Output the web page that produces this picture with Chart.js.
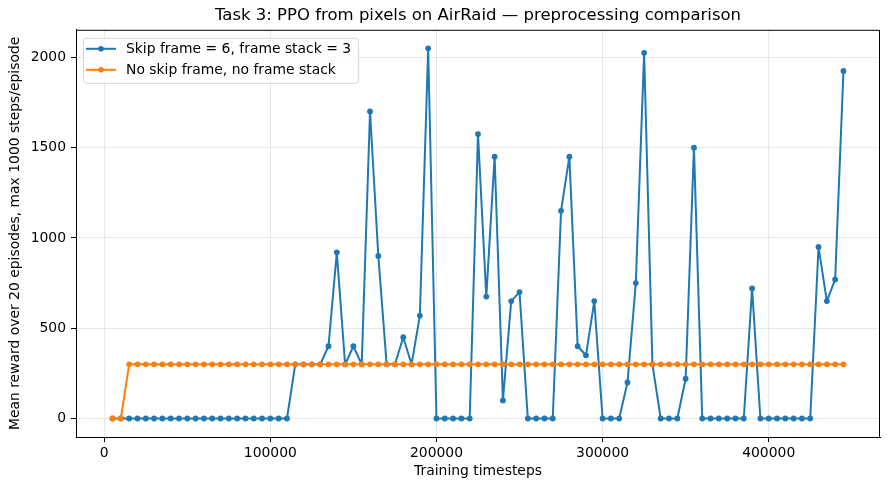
<!DOCTYPE html>
<html>
<head>
<meta charset="utf-8">
<script src="https://cdn.jsdelivr.net/npm/chart.js@4"></script>
<style>
  html, body { margin: 0; padding: 0; background: #fff; }
  #wrap { width: 889px; height: 490px; }
</style>
</head>
<body>
<div id="wrap"><canvas id="myChart" width="889" height="490"></canvas></div>
<script>
// timesteps (x), one evaluation every 5000 steps
const timesteps = [
  5000, 10000, 15000, 20000, 25000, 30000, 35000, 40000, 45000, 50000,
  55000, 60000, 65000, 70000, 75000, 80000, 85000, 90000, 95000, 100000,
  105000, 110000, 115000, 120000, 125000, 130000, 135000, 140000, 145000, 150000,
  155000, 160000, 165000, 170000, 175000, 180000, 185000, 190000, 195000, 200000,
  205000, 210000, 215000, 220000, 225000, 230000, 235000, 240000, 245000, 250000,
  255000, 260000, 265000, 270000, 275000, 280000, 285000, 290000, 295000, 300000,
  305000, 310000, 315000, 320000, 325000, 330000, 335000, 340000, 345000, 350000,
  355000, 360000, 365000, 370000, 375000, 380000, 385000, 390000, 395000, 400000,
  405000, 410000, 415000, 420000, 425000, 430000, 435000, 440000, 445000
];

const skipStackReward = [
  0, 0, 0, 0, 0, 0, 0, 0, 0, 0,
  0, 0, 0, 0, 0, 0, 0, 0, 0, 0,
  0, 0, 300, 300, 300, 300, 400, 920, 300, 400,
  300, 1700, 900, 300, 300, 450, 300, 570, 2050, 0,
  0, 0, 0, 0, 1575, 675, 1450, 100, 650, 700,
  0, 0, 0, 0, 1150, 1450, 400, 350, 650, 0,
  0, 0, 200, 750, 2025, 300, 0, 0, 0, 220,
  1500, 0, 0, 0, 0, 0, 0, 720, 0, 0,
  0, 0, 0, 0, 0, 950, 650, 770, 1925
];

const noSkipReward = [
  0, 0, 300, 300, 300, 300, 300, 300, 300, 300,
  300, 300, 300, 300, 300, 300, 300, 300, 300, 300,
  300, 300, 300, 300, 300, 300, 300, 300, 300, 300,
  300, 300, 300, 300, 300, 300, 300, 300, 300, 300,
  300, 300, 300, 300, 300, 300, 300, 300, 300, 300,
  300, 300, 300, 300, 300, 300, 300, 300, 300, 300,
  300, 300, 300, 300, 300, 300, 300, 300, 300, 300,
  300, 300, 300, 300, 300, 300, 300, 300, 300, 300,
  300, 300, 300, 300, 300, 300, 300, 300, 300
];

const xTicks = [0, 100000, 200000, 300000, 400000];
const yTicks = [0, 500, 1000, 1500, 2000];

const seriesNames = ['Skip frame = 6, frame stack = 3', 'No skip frame, no frame stack'];
const seriesColors = ['#1f77b4', '#ff7f0e'];

const FONT = '"DejaVu Sans", sans-serif';
const gridColor = 'rgba(176,176,176,0.3)';

function toPoints(values) {
  return values.map((v, i) => ({ x: timesteps[i], y: v }));
}

// top/right spines plus a matplotlib-style legend inside the axes
const frameAndLegend = {
  id: 'frameAndLegend',
  afterDraw(chart) {
    const ctx = chart.ctx;
    const a = chart.chartArea;
    ctx.save();
    ctx.strokeStyle = '#000';
    ctx.lineWidth = 1;
    ctx.strokeRect(a.left + 0.5, a.top + 0.5, a.right - a.left - 1, a.bottom - a.top);

    ctx.font = '13.9px ' + FONT;
    let maxW = 0;
    chart.data.datasets.forEach(ds => { maxW = Math.max(maxW, ctx.measureText(ds.label).width); });
    const x = a.left + 7, y = a.top + 8;
    const w = 43 + maxW + 7, h = 45;

    ctx.beginPath();
    ctx.roundRect(x + 0.5, y + 0.5, w, h, 3);
    ctx.fillStyle = 'rgba(255,255,255,0.8)';
    ctx.fill();
    ctx.strokeStyle = 'rgba(204,204,204,0.8)';
    ctx.stroke();

    chart.data.datasets.forEach((ds, i) => {
      const cy = y + 11 + i * 21;
      ctx.strokeStyle = ds.borderColor;
      ctx.lineWidth = 2;
      ctx.beginPath();
      ctx.moveTo(x + 3, cy);
      ctx.lineTo(x + 33, cy);
      ctx.stroke();
      ctx.fillStyle = ds.borderColor;
      ctx.beginPath();
      ctx.arc(x + 18, cy, 2.8, 0, Math.PI * 2);
      ctx.fill();
      ctx.fillStyle = '#000';
      ctx.textBaseline = 'middle';
      ctx.textAlign = 'left';
      ctx.fillText(ds.label, x + 43, cy + 1);
    });
    ctx.restore();
  }
};

const ctx = document.getElementById('myChart');

const lineStyle = {
  borderWidth: 2,
  borderJoinStyle: 'round',
  borderCapStyle: 'round',
  pointRadius: 2.9,
  pointBorderWidth: 0
};

const myChart = new Chart(ctx, {
  type: 'line',
  data: {
    datasets: [
      Object.assign({
        label: seriesNames[0],
        data: toPoints(skipStackReward),
        borderColor: seriesColors[0],
        backgroundColor: seriesColors[0],
        order: 2
      }, lineStyle),
      Object.assign({
        label: seriesNames[1],
        data: toPoints(noSkipReward),
        borderColor: seriesColors[1],
        backgroundColor: seriesColors[1],
        order: 1
      }, lineStyle)
    ]
  },
  options: {
    responsive: false,
    animation: false,
    events: [],
    layout: { padding: { left: 0, right: 9, top: 0, bottom: 0 } },
    plugins: {
      legend: { display: false },
      tooltip: { enabled: false },
      title: {
        display: true,
        fullSize: false,
        text: 'Task 3: PPO from pixels on AirRaid \u2014 preprocessing comparison',
        color: '#000',
        font: { family: FONT, size: 16.5, weight: 'normal' },
        padding: { top: 6, bottom: 4 }
      }
    },
    scales: {
      x: {
        type: 'linear',
        min: -17000,
        max: 467000,
        afterBuildTicks: s => { s.ticks = xTicks.map(v => ({ value: v })); },
        afterFit: s => { s.height = 53; },
        grid: { color: gridColor, lineWidth: 1, tickColor: '#000', tickLength: 5 },
        border: { color: '#000', width: 1 },
        ticks: {
          color: '#000',
          font: { family: FONT, size: 13.9 },
          padding: 3,
          maxRotation: 0,
          autoSkip: false,
          callback: v => String(v)
        },
        title: {
          display: true,
          text: 'Training timesteps',
          color: '#000',
          font: { family: FONT, size: 13.9 },
          padding: { top: 0, bottom: 10 }
        }
      },
      y: {
        type: 'linear',
        min: -102.5,
        max: 2152.5,
        afterBuildTicks: s => { s.ticks = yTicks.map(v => ({ value: v })); },
        afterFit: s => { s.width = 76; },
        grid: { color: gridColor, lineWidth: 1, tickColor: '#000', tickLength: 5 },
        border: { color: '#000', width: 1 },
        ticks: {
          color: '#000',
          font: { family: FONT, size: 13.9 },
          padding: 5,
          autoSkip: false,
          callback: v => String(v)
        },
        title: {
          display: true,
          text: 'Mean reward over 20 episodes, max 1000 steps/episode',
          color: '#000',
          font: { family: FONT, size: 13.9 },
          padding: { top: 7, bottom: 0 }
        }
      }
    }
  },
  plugins: [frameAndLegend]
});
</script>
</body>
</html>
